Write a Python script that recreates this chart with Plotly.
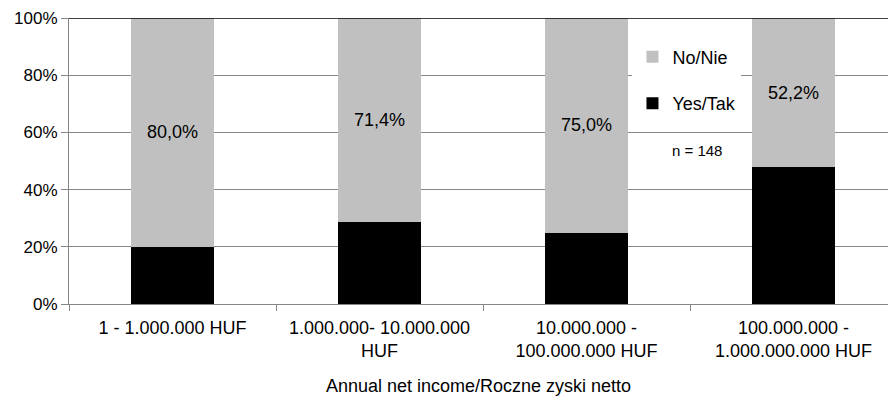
import plotly.graph_objects as go

categories = ["1 - 1.000.000 HUF", "1.000.000- 10.000.000<br>HUF",
              "10.000.000 -<br>100.000.000 HUF", "100.000.000 -<br>1.000.000.000 HUF"]
yes_tak = [20.0, 28.6, 25.0, 47.8]
no_nie = [80.0, 71.4, 75.0, 52.2]
y_ticks = [0, 20, 40, 60, 80, 100]
y_tick_labels = ["0%", "20%", "40%", "60%", "80%", "100%"]

FONT = "Liberation Sans, Arial, sans-serif"
fig = go.Figure()
fig.add_trace(go.Bar(x=categories, y=yes_tak, name="Yes/Tak", marker_color="#000000",
                     marker_line_width=0, width=0.405, legendgroup="a", legendrank=2))
fig.add_trace(go.Bar(x=categories, y=no_nie, name="No/Nie", marker_color="#C0C0C0",
                     marker_line_width=0, width=0.405, legendgroup="b", legendrank=1,
                     texttemplate="%{y:.1f}%", textposition="inside",
                     insidetextanchor="middle", textangle=0,
                     textfont=dict(size=18, color="#000", family=FONT)))

fig.add_shape(type="line", xref="paper", yref="y", x0=0, x1=1, y0=100, y1=100,
              line=dict(color="#000", width=1.5))
fig.add_annotation(text="n = 148", xref="paper", yref="paper", x=0.767, y=0.538,
                   xanchor="center", yanchor="middle",
                   showarrow=False, font=dict(size=15, color="#000", family=FONT))

fig.update_layout(
    width=888, height=402, barmode="stack", separators=",.",
    margin=dict(l=69, r=0, t=18, b=98),
    paper_bgcolor="white", plot_bgcolor="white",
    font=dict(family=FONT, size=17, color="#000"),
    legend=dict(x=0.688, y=0.928, xanchor="left", yanchor="top", bgcolor="white",
                traceorder="grouped", tracegroupgap=20,
                font=dict(size=18, family=FONT), itemwidth=30),
    xaxis=dict(range=[-0.5, 3.4565], tickson="boundaries", ticks="outside", ticklen=6,
               tickcolor="#868686", showline=True, linecolor="#868686", showgrid=False,
               tickfont=dict(size=18), ticklabelstandoff=7,
               title=dict(text="Annual net income/Roczne zyski netto", font=dict(size=18), standoff=19)),
    yaxis=dict(range=[0, 100], tickmode="array", tickvals=y_ticks, ticktext=y_tick_labels,
               ticks="outside", ticklen=7,
               tickcolor="#868686", showline=True, linecolor="#868686",
               gridcolor="#868686", gridwidth=1, zeroline=False, tickfont=dict(size=17)),
)
fig.write_html("out.html")
